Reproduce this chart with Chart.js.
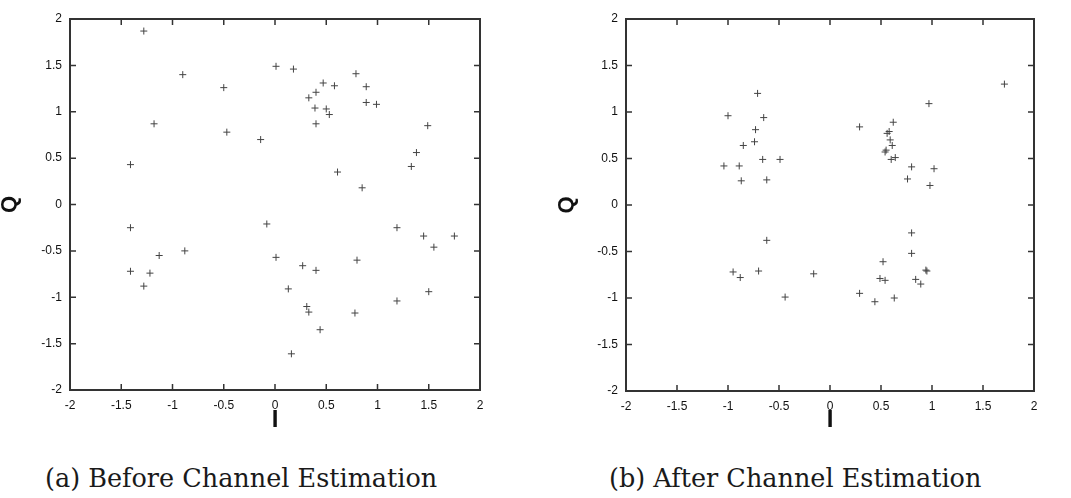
<!DOCTYPE html>
<html>
<head>
<meta charset="utf-8">
<script src="https://cdn.jsdelivr.net/npm/chart.js@4.4.1/dist/chart.umd.min.js"></script>
<style>
  body { margin: 0; background: #fff; width: 1071px; height: 498px; position: relative; overflow: hidden; }
  .box { position: absolute; top: 0; height: 440px; }
  .caption { position: absolute; top: 466px; font-family: "DejaVu Serif"; font-size: 25.5px; line-height: 25.5px; color: #1a1a1a; white-space: nowrap; }
</style>
</head>
<body>
<div class="box" style="left:0;width:530px"><canvas id="chartBefore" width="530" height="440"></canvas></div>
<div class="box" style="left:530px;width:541px"><canvas id="chartAfter" width="541" height="440"></canvas></div>
<div class="caption" style="left:45px">(a) Before Channel Estimation</div>
<div class="caption" style="left:609px">(b) After Channel Estimation</div>

<script>
// I/Q samples
const beforeI = [-1.28, -0.90, -1.18, -1.41, -0.50, -0.47, -0.14, 0.01, 0.18, 0.33, 0.40, 0.39, 0.40,
    0.47, 0.58, 0.79, 0.89, 0.50, 0.53, 0.89, 0.99, 1.49, 1.38, 1.33, 0.61, 0.85,
    -1.41, -1.41, -1.28, -1.22, -1.13, -0.88, -0.08, 0.01, 0.13, 0.27, 0.40, 0.31, 0.33, 0.16,
    0.44, 0.80, 0.78, 1.19, 1.19, 1.45, 1.55, 1.75, 1.50];
const beforeQ = [1.87, 1.40, 0.87, 0.43, 1.26, 0.78, 0.70, 1.49, 1.46, 1.15, 1.21, 1.04, 0.87,
    1.31, 1.28, 1.41, 1.27, 1.03, 0.97, 1.10, 1.08, 0.85, 0.56, 0.41, 0.35, 0.18,
    -0.25, -0.72, -0.88, -0.74, -0.55, -0.50, -0.21, -0.57, -0.91, -0.66, -0.71, -1.10, -1.16, -1.61,
    -1.35, -0.60, -1.17, -0.25, -1.04, -0.34, -0.46, -0.34, -0.94];

const afterI = [-0.71, -1.00, -0.65, -0.73, -0.74, -0.85, -1.04, -0.89, -0.66, -0.49, -0.87, -0.62,
    1.71, 0.97, 0.29, 0.62, 0.58, 0.56, 0.59, 0.61, 0.54, 0.55, 0.60, 0.64, 0.80, 1.02, 0.76, 0.98,
    -0.62, -0.95, -0.88, -0.70, -0.44, -0.16,
    0.80, 0.80, 0.52, 0.94, 0.95, 0.49, 0.54, 0.84, 0.89, 0.29, 0.44, 0.63];
const afterQ = [1.20, 0.96, 0.94, 0.81, 0.68, 0.64, 0.42, 0.42, 0.49, 0.49, 0.26, 0.27,
    1.30, 1.09, 0.84, 0.89, 0.79, 0.77, 0.70, 0.64, 0.57, 0.59, 0.49, 0.51, 0.41, 0.39, 0.28, 0.21,
    -0.38, -0.72, -0.78, -0.71, -0.99, -0.74,
    -0.30, -0.52, -0.61, -0.70, -0.71, -0.79, -0.81, -0.80, -0.85, -0.95, -1.04, -1.00];

const tickValues = [-2, -1.5, -1, -0.5, 0, 0.5, 1, 1.5, 2];
const tickLabels = ['-2', '-1.5', '-1', '-0.5', '0', '0.5', '1', '1.5', '2'];

const inkColor = '#333';
const labelFont = { family: 'Liberation Sans', size: 12 };

// gnuplot-style box with inward ticks on all four sides
const frameTicks = {
    id: 'frameTicks',
    beforeDatasetsDraw(chart) {
        const { ctx, chartArea: a, scales: { x, y } } = chart;
        ctx.save();
        ctx.strokeStyle = inkColor;
        ctx.lineWidth = 1.5;
        ctx.beginPath();
        tickValues.forEach(v => {
            const px = x.getPixelForValue(v);
            const py = y.getPixelForValue(v);
            ctx.moveTo(px, a.bottom); ctx.lineTo(px, a.bottom - 6);
            ctx.moveTo(px, a.top); ctx.lineTo(px, a.top + 6);
            ctx.moveTo(a.left, py); ctx.lineTo(a.left + 6, py);
            ctx.moveTo(a.right, py); ctx.lineTo(a.right - 6, py);
        });
        ctx.stroke();
        ctx.lineWidth = 2;
        ctx.strokeRect(a.left, a.top, a.right - a.left, a.bottom - a.top);
        ctx.restore();
    }
};

function makeChart(id, iVals, qVals, opts) {
    const points = iVals.map((v, k) => ({ x: v, y: qVals[k] }));
    const axis = {
        type: 'linear',
        min: -2,
        max: 2,
        afterBuildTicks: s => { s.ticks = tickValues.map(v => ({ value: v })); },
        ticks: {
            callback: (v, k) => tickLabels[k],
            font: labelFont,
            color: '#111',
            padding: 8,
            autoSkip: false,
            maxRotation: 0
        },
        grid: { display: false, drawTicks: false },
        border: { display: false }
    };

    return new Chart(document.getElementById(id), {
        type: 'scatter',
        data: {
            datasets: [{
                data: points,
                pointStyle: 'cross',
                pointRadius: 3.5,
                pointHoverRadius: 3.5,
                borderWidth: 1,
                borderColor: '#444'
            }]
        },
        options: {
            responsive: false,
            animation: false,
            layout: { padding: opts.padding },
            plugins: { legend: { display: false }, tooltip: { enabled: false } },
            scales: {
                x: {
                    ...axis,
                    afterFit: s => { s.height = opts.xHeight; },
                    title: {
                        display: true, text: 'I', color: '#111', padding: 0,
                        font: { family: 'Liberation Sans', size: 24, weight: 'bold' }
                    }
                },
                y: {
                    ...axis,
                    afterFit: s => { s.width = opts.yWidth; },
                    title: {
                        display: true, text: 'Q', color: '#111', padding: 0,
                        font: { family: 'Liberation Sans', size: 22, weight: 'bold', lineHeight: 0.9 }
                    }
                }
            }
        },
        plugins: [frameTicks]
    });
}

makeChart('chartBefore', beforeI, beforeQ, {
    padding: { left: 0, top: 19, right: 50, bottom: 5 }, yWidth: 70, xHeight: 45
});
makeChart('chartAfter', afterI, afterQ, {
    padding: { left: 27, top: 19, right: 37, bottom: 5 }, yWidth: 69, xHeight: 44
});
</script>
</body>
</html>
